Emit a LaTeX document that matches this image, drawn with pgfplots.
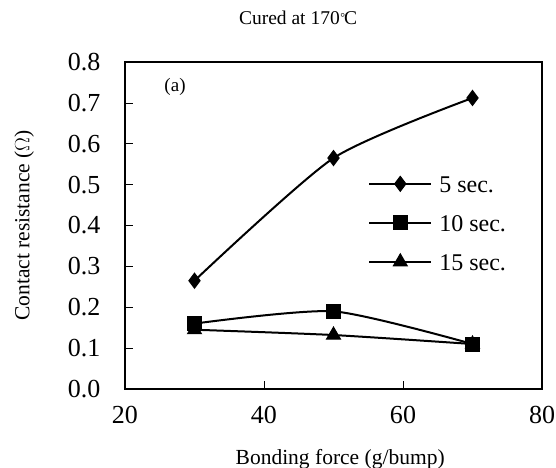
\documentclass[border=0pt]{standalone}
\usepackage{fontspec}
\setmainfont{Liberation Serif}
\usepackage{pgfplots}
\pgfplotsset{compat=1.18}
\begin{document}
\begin{tikzpicture}
\begin{axis}[
  scale only axis,
  clip=false,
  width=417pt, height=327pt,
  xmin=20, xmax=80, ymin=0, ymax=0.8,
  xtick={20,40,60,80},
  ytick={0,0.1,...,0.8},
  axis line style={line width=1.4pt},
  tick style={line width=0.6pt, black},
  major tick length=8pt,
  tick align=inside,
  xtick pos=bottom, ytick pos=left,
  /pgf/number format/assume math mode=true,
  yticklabel style={/pgf/number format/fixed, /pgf/number format/precision=1, /pgf/number format/fixed zerofill, font=\fontsize{26}{30}\selectfont, xshift=-21pt},
  xticklabel style={font=\fontsize{26}{30}\selectfont, yshift=-14pt},
  xlabel={Bonding force (g/bump)},
  ylabel={Contact resistance ($\Omega$)},
  xlabel style={font=\fontsize{21.5}{24}\selectfont, at={(axis description cs:0.516,-0.214)}, anchor=center},
  ylabel style={font=\fontsize{21.5}{24}\selectfont, at={(axis description cs:-0.242,0.5)}, anchor=center, rotate=0},
  legend style={draw=none, fill=none, inner sep=0pt, at={(axis description cs:0.583,0.654)}, anchor=north west,
    font=\fontsize{24}{28}\selectfont, row sep=22pt, column sep=7pt,
    nodes={inner sep=0pt, text height=17pt, text depth=0pt}},
  legend cell align=left,
  legend image code/.code={\draw[mark repeat=2,mark phase=2] plot coordinates {(0pt,0pt) (31pt,0pt) (62pt,0pt)};},
  every axis plot/.append style={line width=2pt, black, smooth, tension=0.4},
]
\addplot[mark=diamond*, mark size=7.5pt, mark options={solid, fill=black, line width=1pt}] coordinates {(30,0.265) (50,0.565) (70,0.712)};
\addlegendentry{5 sec.}
\addplot[mark=square*, mark size=7pt, mark options={solid, fill=black, line width=1pt}] coordinates {(30,0.160) (50,0.190) (70,0.110)};
\addlegendentry{10 sec.}
\addplot[mark=triangle*, mark size=8pt, mark options={solid, fill=black, line width=1pt}] coordinates {(30,0.145) (50,0.132) (70,0.110)};
\addlegendentry{15 sec.}
\node[font=\fontsize{19}{22}\selectfont] at (axis description cs:0.12,0.925) {(a)};
\node[font=\fontsize{19.5}{22}\selectfont] at (axis description cs:0.415,1.135) {Cured at 170\kern0.5pt{\raisebox{0.35ex}{\fontsize{12}{13}\selectfont °}}\kern-1pt C};
\end{axis}
\pgfresetboundingbox
\path ([shift={(-125pt,-79pt)}]current axis.south west) rectangle ([shift={(14pt,62pt)}]current axis.north east);
\end{tikzpicture}
\end{document}
